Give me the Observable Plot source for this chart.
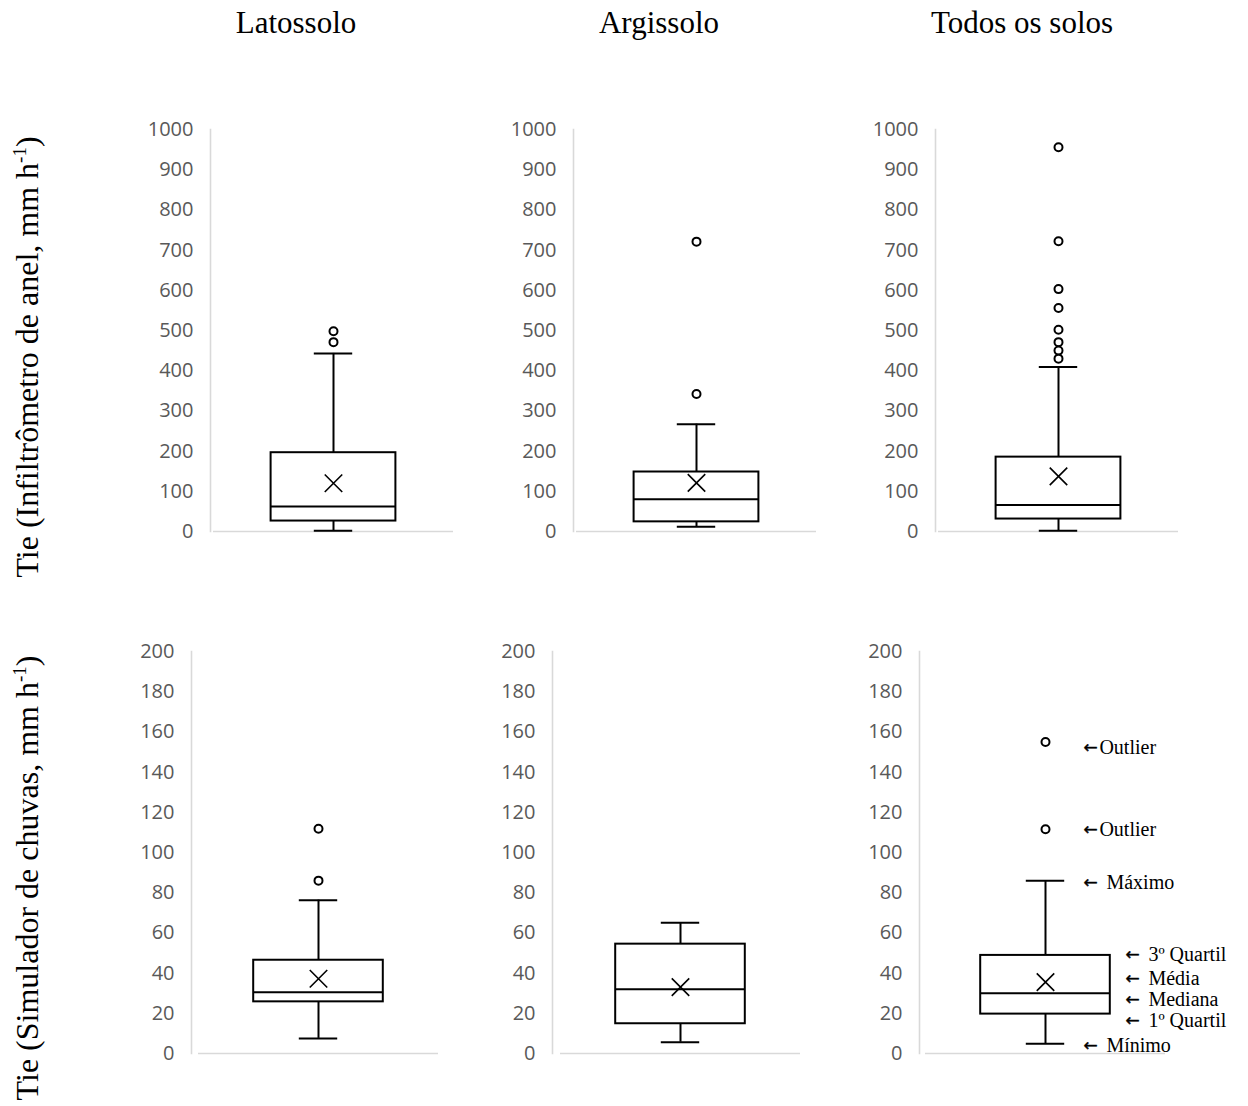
<!DOCTYPE html>
<html><head><meta charset="utf-8">
<script src="https://cdn.jsdelivr.net/npm/d3@7"></script>
<script src="https://cdn.jsdelivr.net/npm/@observablehq/plot@0.6"></script>
<style>
body{margin:0;background:#fff;}
#root{position:relative;width:1248px;height:1106px;overflow:hidden;background:#fff;}
#root > svg{position:absolute;overflow:visible;}
</style></head><body><div id="root"></div>
<script>
// ---------- data ----------
const soils = ["Latossolo", "Argissolo", "Todos os solos"];

const ringTitle = "Tie (Infiltrômetro de anel, mm h";
const rainTitle = "Tie (Simulador de chuvas, mm h";

const ringTicks = [0, 100, 200, 300, 400, 500, 600, 700, 800, 900, 1000];
const ringMin    = [2, 12, 2];
const ringQ1     = [26, 24, 31];
const ringMedian = [62, 80, 66];
const ringQ3     = [196, 148, 185];
const ringMax    = [443, 267, 409];
const ringMean   = [120, 121, 137];
const ringOutliers = [[498, 471], [721, 342], [956, 722, 603, 556, 502, 471, 450, 430]];

const rainTicks = [0, 20, 40, 60, 80, 100, 120, 140, 160, 180, 200];
const rainMin    = [7.5, 5.6, 4.8];
const rainQ1     = [25.7, 14.8, 19.6];
const rainMedian = [30.5, 32, 30];
const rainQ3     = [46.4, 54.4, 48.8];
const rainMax    = [76.3, 65, 86];
const rainMean   = [37.2, 33, 35.5];
const rainOutliers = [[111.8, 86], [], [155, 111.6]];

const annotLabels = ["\u2190Outlier", "\u2190Outlier", "\u2190 Máximo", "\u2190 3º Quartil", "\u2190 Média", "\u2190 Mediana", "\u2190 1º Quartil", "\u2190 Mínimo"];
const annotValues = [152.2, 111.4, 85.2, 49.3, 37.3, 26.9, 16.4, 4.0];
const annotInBox  = [false, false, false, true, true, true, true, false];

// ---------- layout ----------
const root = document.getElementById("root");
const ML = 70, MT = 20, MB = 20, SPAN = 240;

function panel(o) {
  const d = o.stats;
  const mr = o.annot ? 90 : 12;
  const width = ML + o.inset + SPAN + mr;
  const height = (o.yZero - o.yTop) + MT + MB;
  const marks = [
    Plot.frame({anchor: "left", stroke: "#d9d9d9", strokeWidth: 1.6}),
    Plot.ruleY([0], {stroke: "#d9d9d9", strokeWidth: 1.6, insetLeft: o.inset}),
    Plot.axisY(o.ticks, {tickSize: 0, tickPadding: 17, tickFormat: v => String(v), fontSize: 20, fill: "#595959", label: null}),
    Plot.ruleX([d], {x: () => 0.5, y1: "q3", y2: "max", stroke: "black", strokeWidth: 2}),
    Plot.ruleX([d], {x: () => 0.5, y1: "min", y2: "q1", stroke: "black", strokeWidth: 2}),
    Plot.ruleY([d], {y: "max", x1: () => 0.42, x2: () => 0.58, stroke: "black", strokeWidth: 2}),
    Plot.ruleY([d], {y: "min", x1: () => 0.42, x2: () => 0.58, stroke: "black", strokeWidth: 2}),
    Plot.rect([d], {x1: () => 0.5 - o.half, x2: () => 0.5 + o.half, y1: "q1", y2: "q3", fill: "white", stroke: "black", strokeWidth: 2}),
    Plot.ruleY([d], {y: "median", x1: () => 0.5 - o.half, x2: () => 0.5 + o.half, stroke: "black", strokeWidth: 2}),
    Plot.dot([d], {x: () => 0.5, y: "mean", symbol: "times", r: 8, stroke: "black", strokeWidth: 1.6}),
    Plot.dot(o.outliers, {x: () => 0.5, y: v => v, r: 4, fill: "white", stroke: "black", strokeWidth: 2})
  ];
  if (o.annot) {
    const rows = annotLabels.map((t, i) => ({
      arrow: t.slice(0, 1), rest: t.slice(1).trim(), spaced: t.slice(1, 2) === " ",
      v: annotValues[i], box: annotInBox[i]
    }));
    const ax = r => r.box ? 0.833 : 0.658;
    marks.push(Plot.text(rows, {x: ax, y: "v", text: "arrow", textAnchor: "start",
      fontFamily: "DejaVu Sans", fontSize: 17, fill: "black", stroke: "black", strokeWidth: 0.4}));
    marks.push(Plot.text(rows.filter(r => !r.spaced), {x: ax, y: "v", text: "rest", textAnchor: "start", dx: 16,
      fontFamily: "Liberation Serif", fontSize: 20, fill: "black"}));
    marks.push(Plot.text(rows.filter(r => r.spaced), {x: ax, y: "v", text: "rest", textAnchor: "start", dx: 23,
      fontFamily: "Liberation Serif", fontSize: 20, fill: "black"}));
  }
  const svg = Plot.plot({
    width, height, marginLeft: ML, marginRight: mr, marginTop: MT, marginBottom: MB,
    x: {domain: [0, 1], insetLeft: o.inset, axis: null},
    y: {domain: o.domain, axis: null},
    style: {fontFamily: "'Open Sans', sans-serif", fontSize: "20px", background: "transparent", color: "#595959", overflow: "visible"},
    marks
  });
  svg.style.left = (o.axisX - ML) + "px";
  svg.style.top = (o.yTop - MT) + "px";
  root.appendChild(svg);
}

const topAxisX = [210, 573, 935];
const bottomAxisX = [191, 552, 919];
const bottomInset = [7, 8, 6];

soils.forEach((s, i) => {
  panel({
    stats: {min: ringMin[i], q1: ringQ1[i], median: ringMedian[i], q3: ringQ3[i], max: ringMax[i], mean: ringMean[i]},
    outliers: ringOutliers[i], ticks: ringTicks, domain: [0, 1000],
    yTop: 129, yZero: 531, axisX: topAxisX[i], inset: 3, half: 0.26
  });
  panel({
    stats: {min: rainMin[i], q1: rainQ1[i], median: rainMedian[i], q3: rainQ3[i], max: rainMax[i], mean: rainMean[i]},
    outliers: rainOutliers[i], ticks: rainTicks, domain: [0, 200],
    yTop: 651, yZero: 1053, axisX: bottomAxisX[i], inset: bottomInset[i], half: 0.27, annot: i === 2
  });
});

// ---------- titles ----------
const ns = "http://www.w3.org/2000/svg";
const ov = document.createElementNS(ns, "svg");
ov.setAttribute("width", 1248); ov.setAttribute("height", 1106);
ov.style.left = "0px"; ov.style.top = "0px"; ov.style.pointerEvents = "none";
ov.setAttribute("font-family", "'Liberation Serif', 'Times New Roman', serif");
const colX = [296, 659, 1022];
soils.forEach((s, i) => {
  const t = document.createElementNS(ns, "text");
  t.setAttribute("x", colX[i]); t.setAttribute("y", 33);
  t.setAttribute("text-anchor", "middle"); t.setAttribute("font-size", 31);
  t.textContent = s;
  ov.appendChild(t);
});
function yTitle(txt, cy) {
  const t = document.createElementNS(ns, "text");
  t.setAttribute("transform", `translate(38,${cy}) rotate(-90)`);
  t.setAttribute("text-anchor", "middle"); t.setAttribute("font-size", 32);
  const a = document.createElementNS(ns, "tspan"); a.textContent = txt;
  const b = document.createElementNS(ns, "tspan"); b.textContent = "-1";
  b.setAttribute("font-size", 19); b.setAttribute("dy", -12);
  const c = document.createElementNS(ns, "tspan"); c.textContent = ")";
  c.setAttribute("dy", 12);
  t.append(a, b, c);
  ov.appendChild(t);
}
yTitle(ringTitle, 357);
yTitle(rainTitle, 878);
root.appendChild(ov);
</script></body></html>
